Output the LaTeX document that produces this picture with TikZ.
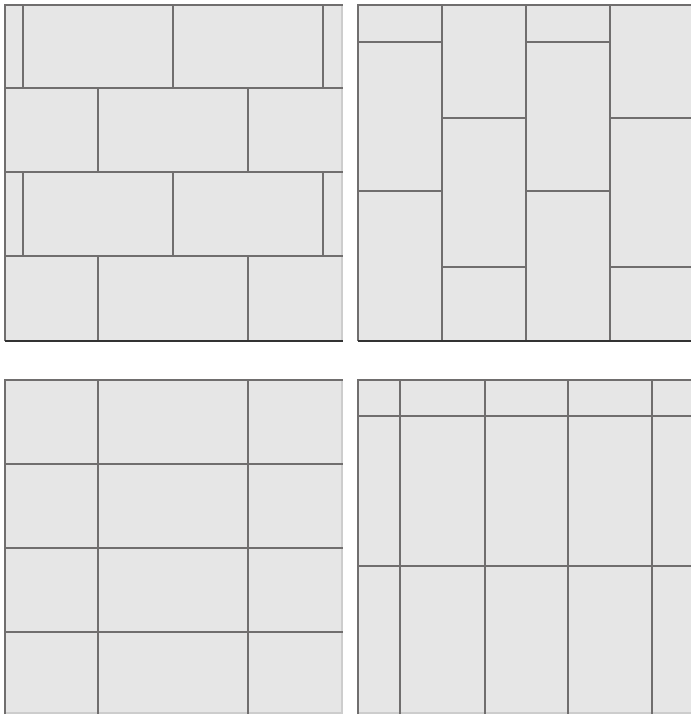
\documentclass[tikz,border=0pt]{standalone}
\definecolor{tilegray}{RGB}{230,230,230}
\definecolor{groutgray}{RGB}{112,110,110}
\definecolor{edgegray}{RGB}{50,50,50}
\definecolor{rimgray}{RGB}{205,205,205}

\begin{document}
\begin{tikzpicture}[x=1pt, y=-1pt,
    grout/.style={draw=groutgray, line width=2.2pt},
    edge/.style={draw=edgegray, line width=2.2pt},
    rim/.style={draw=rimgray, line width=1.5pt},
    tile/.style={fill=tilegray}]
		% 0. Canvas, pixel units, y going down
		\useasboundingbox (0,0) rectangle (691,715);

		% 1. Top left: running bond (rows of long tiles, offset by half)
		\fill[tile] (5,5) rectangle (343,341);
		\draw[rim] (342,5) -- (342,341);
		\foreach \y in {88,172,256}
			\draw[grout] (5,\y) -- (343,\y);
		\foreach \x in {23,173,323} {
			\draw[grout] (\x,5) -- (\x,88);
			\draw[grout] (\x,172) -- (\x,256);
		}
		\foreach \x in {98,248} {
			\draw[grout] (\x,88) -- (\x,172);
			\draw[grout] (\x,256) -- (\x,341);
		}
		\draw[grout] (5,341) -- (5,5) -- (343,5);
		\draw[edge] (5,341) -- (343,341);

		% 2. Top right: vertical running bond
		\fill[tile] (358,5) rectangle (691,341);
		\foreach \x in {442,526,610}
			\draw[grout] (\x,5) -- (\x,341);
		% columns 1 and 3
		\foreach \x/\w in {358/442,526/610} {
			\draw[grout] (\x,42) -- (\w,42);
			\draw[grout] (\x,191) -- (\w,191);
		}
		% columns 2 and 4
		\foreach \x/\w in {442/526,610/691} {
			\draw[grout] (\x,118) -- (\w,118);
			\draw[grout] (\x,267) -- (\w,267);
		}
		\draw[grout] (358,341) -- (358,5) -- (691,5);
		\draw[edge] (358,341) -- (691,341);

		% 3. Bottom left: straight grid
		\fill[tile] (5,380) rectangle (343,714);
		\draw[rim] (5,713) -- (342,713) -- (342,380);
		\foreach \y in {464,548,632}
			\draw[grout] (5,\y) -- (343,\y);
		\foreach \x in {98,248}
			\draw[grout] (\x,380) -- (\x,714);
		\draw[grout] (5,714) -- (5,380) -- (343,380);

		% 4. Bottom right: vertical stack
		\fill[tile] (358,380) rectangle (691,714);
		\draw[rim] (358,713) -- (691,713);
		\foreach \x in {400,485,568,652}
			\draw[grout] (\x,380) -- (\x,714);
		\foreach \y in {416,566}
			\draw[grout] (358,\y) -- (691,\y);
		\draw[grout] (358,714) -- (358,380) -- (691,380);
	\end{tikzpicture}
\end{document}
